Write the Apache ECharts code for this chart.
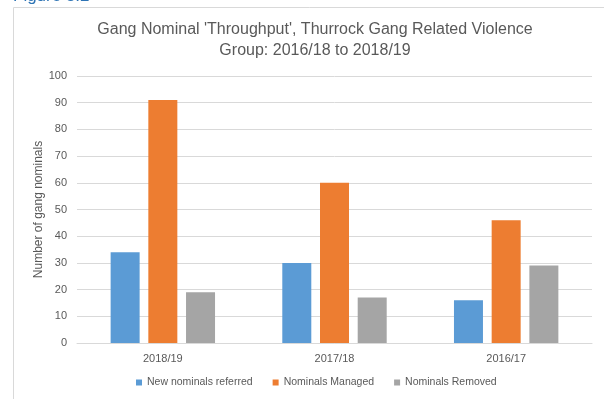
<!DOCTYPE html>
<html><head><meta charset="utf-8">
<script src="https://cdn.jsdelivr.net/npm/echarts@6/dist/echarts.min.js"></script>
<style>html,body{margin:0;padding:0;background:#fff;}#c{width:604px;height:399px;}</style>
</head><body><div id="c"></div>
<script>
const categories = ['2018/19', '2017/18', '2016/17'];
const newReferred = [34, 30, 16];
const managed = [91, 60, 46];
const removed = [19, 17, 29];
const seriesNames = ['New nominals referred', 'Nominals Managed', 'Nominals Removed'];
const yTicks = {min: 0, max: 100, interval: 10};

const chart = echarts.init(document.getElementById('c'), null, {renderer: 'canvas'});
const font = 'Liberation Sans, Arial, sans-serif';
const mk = (name, data, color) => ({
  name, type: 'bar', data, barWidth: 29, barGap: '30%', barCategoryGap: '39%',
  itemStyle: {color}
});
chart.setOption({
  animation: false,
  graphic: [
    {type: 'rect', shape: {x: 13.5, y: 7.5, width: 600, height: 400}, style: {fill: 'none', stroke: '#d9d9d9', lineWidth: 1}},
    {type: 'text', left: 13, top: -12, style: {text: 'Figure 5.2', fill: '#2E74B5', font: '17px ' + font}}
  ],
  title: {
    text: "Gang Nominal 'Throughput', Thurrock Gang Related Violence\nGroup: 2016/18 to 2018/19",
    left: 310, top: 14, textAlign: 'center',
    textStyle: {color: '#595959', fontSize: 16, fontWeight: 'normal', fontFamily: font, lineHeight: 21}
  },
  legend: {
    bottom: 6, left: 131, itemWidth: 6, itemHeight: 6, itemGap: 20,
    icon: 'rect',
    textStyle: {color: '#595959', fontSize: 10.5, fontFamily: font},
    data: seriesNames
  },
  grid: {left: 77, right: 12, top: 76, bottom: 56},
  xAxis: {
    type: 'category', data: categories,
    axisLine: {lineStyle: {color: '#d9d9d9'}},
    axisTick: {show: false},
    axisLabel: {color: '#595959', fontSize: 11, fontFamily: font, margin: 10}
  },
  yAxis: {
    type: 'value', min: yTicks.min, max: yTicks.max, interval: yTicks.interval,
    name: 'Number of gang nominals', nameLocation: 'middle', nameGap: 32, nameMoveOverlap: false,
    nameTextStyle: {color: '#595959', fontSize: 12, fontFamily: font},
    axisLine: {show: false}, axisTick: {show: false},
    axisLabel: {color: '#595959', fontSize: 11, fontFamily: font, margin: 10},
    splitLine: {lineStyle: {color: '#d9d9d9'}}
  },
  series: [
    mk(seriesNames[0], newReferred, '#5B9BD5'),
    mk(seriesNames[1], managed, '#ED7D31'),
    mk(seriesNames[2], removed, '#A5A5A5')
  ]
});
</script></body></html>
